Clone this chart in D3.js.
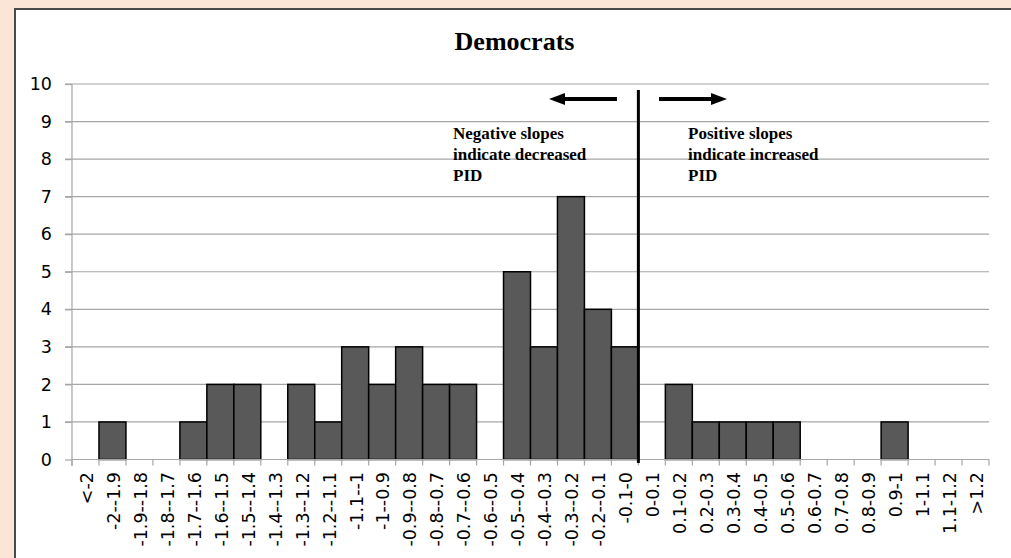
<!DOCTYPE html>
<html><head><meta charset="utf-8">
<script src="https://cdn.jsdelivr.net/npm/d3@7/dist/d3.min.js"></script>
<style>body{margin:0;background:#fbe5d6;} svg{display:block;}</style>
</head><body>
<svg id="c" width="1011" height="558"></svg>
<script>
const categories = ["<-2","-2--1.9","-1.9--1.8","-1.8--1.7","-1.7--1.6","-1.6--1.5","-1.5--1.4","-1.4--1.3","-1.3--1.2","-1.2--1.1","-1.1--1","-1--0.9","-0.9--0.8","-0.8--0.7","-0.7--0.6","-0.6--0.5","-0.5--0.4","-0.4--0.3","-0.3--0.2","-0.2--0.1","-0.1-0","0-0.1","0.1-0.2","0.2-0.3","0.3-0.4","0.4-0.5","0.5-0.6","0.6-0.7","0.7-0.8","0.8-0.9","0.9-1","1-1.1","1.1-1.2",">1.2"];
const counts = [0,1,0,0,1,2,2,0,2,1,3,2,3,2,2,0,5,3,7,4,3,0,2,1,1,1,1,0,0,0,1,0,0,0];
const yTicks = [0,1,2,3,4,5,6,7,8,9,10];
const title = "Democrats";
const leftNote = ["Negative slopes","indicate decreased","PID"];
const rightNote = ["Positive slopes","indicate increased","PID"];

const axisFont = "'DejaVu Sans', sans-serif";
const serif = "'Liberation Serif', 'Times New Roman', serif";

const svg = d3.select("#c");
svg.append("rect").attr("x",0).attr("y",0).attr("width",1011).attr("height",558).attr("fill","#fbe5d6");
svg.append("rect").attr("x",15).attr("y",9).attr("width",1000).attr("height",555).attr("fill","#fff").attr("stroke","#4a4a4a").attr("stroke-width",2);

const x = d3.scaleBand().domain(categories).range([72,989]).padding(0);
const y = d3.scaleLinear().domain([0,10]).range([459.5,84]);

// gridlines
svg.append("g").selectAll("line").data(yTicks.filter(d=>d>0)).join("line")
  .attr("x1",65).attr("x2",989).attr("y1",d=>y(d)).attr("y2",d=>y(d))
  .attr("stroke","#a6a6a6").attr("stroke-width",1.2);

// y axis
const ya = svg.append("g").attr("transform","translate(72,0)")
  .call(d3.axisLeft(y).tickValues(yTicks).tickSize(7).tickPadding(13).tickFormat(d3.format("d")));
ya.select(".domain").remove();
ya.selectAll(".tick line").attr("stroke","#a6a6a6").attr("stroke-width",1.2);
ya.selectAll("text").attr("font-family",axisFont).attr("font-size",17.5).attr("fill","#000");
svg.append("line").attr("x1",72).attr("x2",72).attr("y1",84).attr("y2",466).attr("stroke","#a6a6a6").attr("stroke-width",1.2);

// bars
svg.append("g").selectAll("rect").data(categories.map((c,i)=>({c,v:counts[i]})).filter(d=>d.v>0)).join("rect")
  .attr("x",d=>x(d.c)).attr("width",x.bandwidth()).attr("y",d=>y(d.v)).attr("height",d=>y(0)-y(d.v))
  .attr("fill","#595959").attr("stroke","#000").attr("stroke-width",1.5);

// x axis
svg.append("line").attr("x1",72).attr("x2",989).attr("y1",y(0)).attr("y2",y(0)).attr("stroke","#a6a6a6").attr("stroke-width",1.2);
const bounds = categories.map(c=>x(c)).concat([x.range()[1]]);
svg.append("g").selectAll("line").data(bounds).join("line")
  .attr("x1",d=>d).attr("x2",d=>d).attr("y1",y(0)).attr("y2",y(0)+6).attr("stroke","#a6a6a6").attr("stroke-width",1.2);
svg.append("g").selectAll("text").data(categories).join("text")
  .attr("transform",d=>`translate(${x(d)+x.bandwidth()/2+1},472) rotate(-90)`)
  .attr("dy","0.36em")
  .attr("text-anchor","end").attr("font-family",axisFont).attr("font-size",17.5).attr("fill","#000")
  .text(d=>d);

// title
svg.append("text").attr("x",514.5).attr("y",50).attr("text-anchor","middle")
  .attr("font-family",serif).attr("font-weight","bold").attr("font-size",26).text(title);

// divider
const zx = x("0-0.1");
svg.append("line").attr("x1",zx).attr("x2",zx).attr("y1",90).attr("y2",463).attr("stroke","#000").attr("stroke-width",3);

// arrows
function arrow(x1,x2,yy){
  const dir = Math.sign(x2-x1);
  svg.append("line").attr("x1",x1).attr("x2",x2-dir*14).attr("y1",yy).attr("y2",yy).attr("stroke","#000").attr("stroke-width",4);
  svg.append("path").attr("d",`M${x2},${yy} L${x2-dir*16},${yy-6} L${x2-dir*16},${yy+6} Z`).attr("fill","#000");
}
arrow(617,549,99);
arrow(659,727,99);

function note(lines,x0){
  svg.append("g").selectAll("text").data(lines).join("text")
    .attr("x",x0).attr("y",(d,i)=>139+i*21)
    .attr("font-family",serif).attr("font-weight","bold").attr("font-size",17)
    .text(d=>d);
}
note(leftNote,453);
note(rightNote,688);
</script>
</body></html>
